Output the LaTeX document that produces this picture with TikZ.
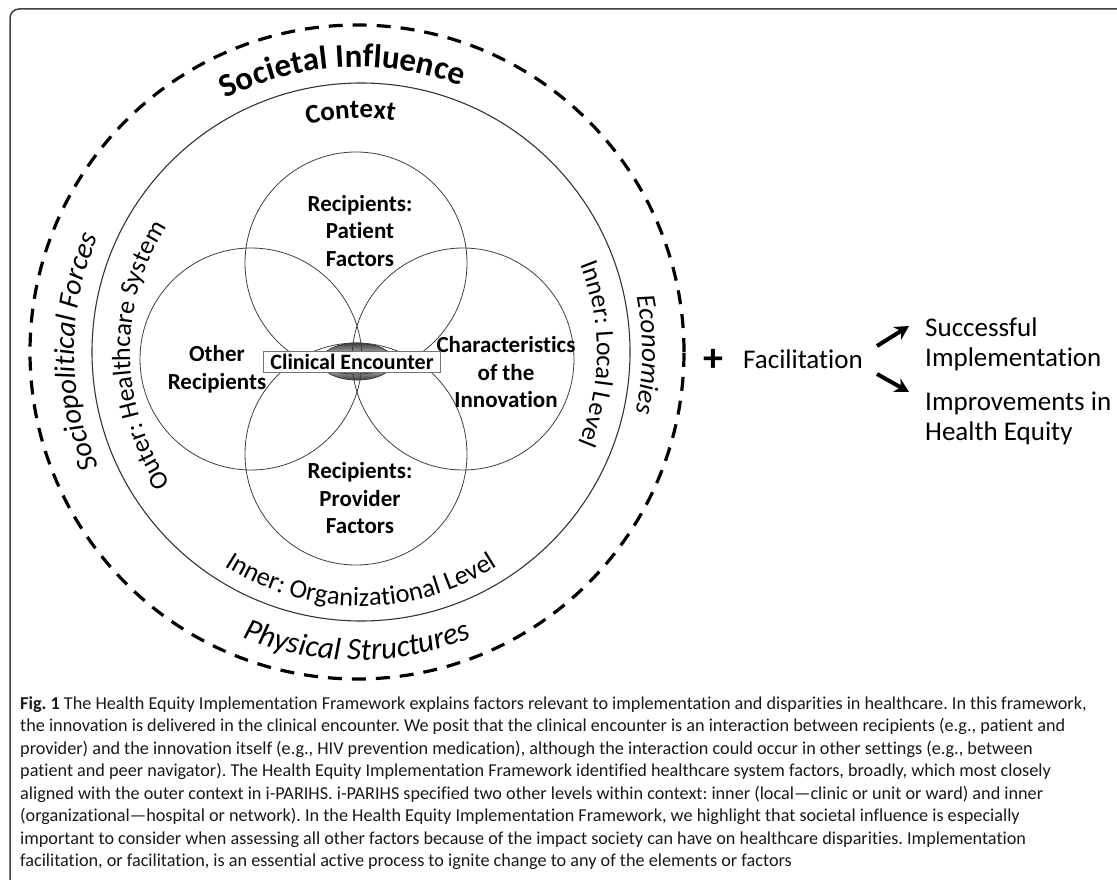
\documentclass[tikz,border=0pt]{standalone}
\usepackage{fontspec}
\setmainfont{Carlito}[Ligatures=NoCommon]
\usetikzlibrary{decorations.text,arrows.meta}
\frenchspacing

\begin{document}
\begin{tikzpicture}[x=1pt,y=1pt,
  ring/.style={draw=black!80, line width=1.1pt},
  petal/.style={circle, draw=black!75, line width=0.8pt, minimum size=222pt, inner sep=0pt},
  outerring/.style={draw=black, line width=3.2pt, dash pattern=on 14pt off 10pt},
  lbl/.style={font=\bfseries\fontsize{23pt}{27.5pt}\selectfont, align=center, inner sep=0pt},
  side/.style={font=\fontsize{27pt}{30pt}\selectfont, inner sep=0pt, anchor=base west, align=left},
  capline/.style={font=\fontsize{18.2pt}{18.2pt}\selectfont, inner sep=0pt, anchor=base west, text=black!90},
  outcome/.style={-{Stealth[length=14pt,width=15pt]}, line width=4pt},
  arctext/.style={decorate, decoration={text along path, text align=center, text={#1}}}
]
\useasboundingbox (0,0) rectangle (1117,-880);

% panel frame
\draw[black!75, line width=1.5pt, rounded corners=9pt] (1130,-9) -- (10,-9) -- (10,-895);

% societal influence ring and context ring
\coordinate (S) at (357,-352);
\coordinate (K) at (361,-352);
\draw[outerring] (S) circle[radius=327];
\draw[ring] (K) circle[radius=269];

% shaded clinical encounter core
\shade[top color=black!75, bottom color=black!75, middle color=white]
  (357,-361.5) ellipse[x radius=36.5, y radius=18.5];
\draw[black!80, line width=0.8pt] (357,-361.5) ellipse[x radius=36.5, y radius=18.5];

% four overlapping circles
\node[petal] (pat) at (356,-263) {};
\node[petal] (oth) at (251,-359) {};
\node[petal] (inn) at (463,-359) {};
\node[petal] (pro) at (356,-454) {};

% circle labels
\node[lbl] (patl) at (360,-231) {Recipients:\\Patient\\Factors};
\node[lbl] (othl) at (217,-369) {Other\\Recipients};
\node[lbl] (innl) at (506,-372.5) {Characteristics\\of the\\Innovation};
\node[lbl] (prol) at (360,-498.5) {Recipients:\\Provider\\Factors};

% clinical encounter
\node[draw=black!55, fill=white, line width=0.9pt, inner xsep=7pt, inner ysep=1pt,
      minimum width=176pt, minimum height=21pt,
      font=\bfseries\fontsize{22pt}{22pt}\selectfont] (enc) at (352,-361.5) {Clinical Encounter};

% curved ring labels
\path[arctext={|\bfseries\fontsize{33pt}{33pt}\selectfont|Societal Influence}]
  (S) ++(153:285) arc[start angle=153, end angle=33, radius=285];
\path[arctext={|\bfseries\fontsize{27pt}{27pt}\selectfont|Context}]
  (K) ++(140:234) arc[start angle=140, end angle=45, radius=234];
\path[arctext={|\itshape\fontsize{29pt}{29pt}\selectfont|Sociopolitical Forces}]
  (S) ++(235:283) arc[start angle=235, end angle=125, radius=283];
\path[arctext={|\fontsize{26pt}{26pt}\selectfont|Outer: Healthcare System}]
  (K) ++(240:231) arc[start angle=240, end angle=122, radius=231];
\path[arctext={|\itshape\fontsize{27pt}{27pt}\selectfont|Economies}]
  (S) ++(40:285) arc[start angle=40, end angle=-41, radius=285];
\path[arctext={|\fontsize{26pt}{26pt}\selectfont|Inner: Local Level}]
  (K) ++(50:236) arc[start angle=50, end angle=-51, radius=236];
\path[arctext={|\fontsize{26.5pt}{26.5pt}\selectfont|Inner: Organizational Level}]
  (K) ++(210:254) arc[start angle=210, end angle=330, radius=254];
\path[arctext={|\itshape\fontsize{31pt}{31pt}\selectfont|Physical Structures}]
  (S) ++(214:308) arc[start angle=214, end angle=326, radius=308];

% facilitation and outcomes
\node[font=\bfseries\fontsize{40pt}{40pt}\selectfont, inner sep=0pt] (plus) at (713,-360) {+};
\node[side] (fac) at (743,-368) {Facilitation};
\node[side] (succ) at (925,-366) {Successful\\Implementation};
\node[side] (impr) at (925,-440) {Improvements in\\Health Equity};
\coordinate (a1s) at (877,-346);
\coordinate (a1e) at (909,-326);
\coordinate (a2s) at (877,-374);
\coordinate (a2e) at (909,-392);
\draw[outcome] (a1s) -- (a1e);
\draw[outcome] (a2s) -- (a2e);

% caption
\node[capline] (c1) at (20,-709) {\textbf{Fig. 1} The Health Equity Implementation Framework explains factors relevant to implementation and disparities in healthcare. In this framework,};
\node[capline] (c2) at (20,-731.5) {the innovation is delivered in the clinical encounter. We posit that the clinical encounter is an interaction between recipients (e.g., patient and};
\node[capline] (c3) at (20,-754) {provider) and the innovation itself (e.g., HIV prevention medication), although the interaction could occur in other settings (e.g., between};
\node[capline] (c4) at (20,-776.5) {patient and peer navigator). The Health Equity Implementation Framework identified healthcare system factors, broadly, which most closely};
\node[capline] (c5) at (20,-799) {aligned with the outer context in i-PARIHS. i-PARIHS specified two other levels within context: inner (local—clinic or unit or ward) and inner};
\node[capline] (c6) at (20,-821.5) {(organizational—hospital or network). In the Health Equity Implementation Framework, we highlight that societal influence is especially};
\node[capline] (c7) at (20,-844) {important to consider when assessing all other factors because of the impact society can have on healthcare disparities. Implementation};
\node[capline] (c8) at (20,-866.5) {facilitation, or facilitation, is an essential active process to ignite change to any of the elements or factors};
\end{tikzpicture}
\end{document}
